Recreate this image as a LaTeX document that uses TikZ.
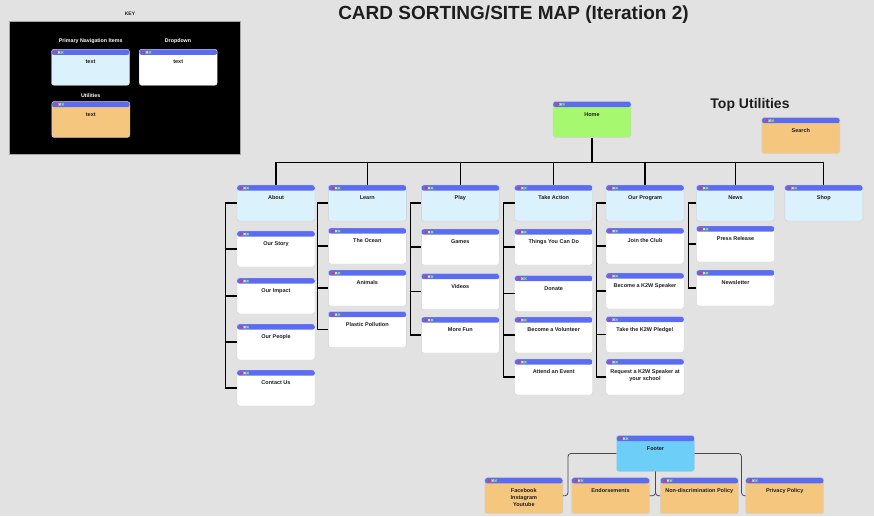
\documentclass[tikz,border=0pt]{standalone}
\usepackage{fontspec}
\setmainfont{Liberation Sans}
\usetikzlibrary{positioning, calc}
\definecolor{canvasGray}{HTML}{E2E2E2}
\definecolor{headerBlue}{HTML}{5B6CF3}
\definecolor{navBlue}{HTML}{DBF1FC}
\definecolor{homeGreen}{HTML}{A6F96E}
\definecolor{utilOrange}{HTML}{F5C77E}
\definecolor{footerBlue}{HTML}{6DCFF8}
\definecolor{dotRed}{HTML}{E8393A}
\definecolor{dotPale}{HTML}{D9DCF7}
\definecolor{dotGreen}{HTML}{8EDB5A}
\definecolor{cardEdge}{HTML}{CFCFD6}
\definecolor{textDark}{HTML}{1E1E1E}
\definecolor{footLine}{HTML}{4A4A4A}

\begin{document}
\begin{tikzpicture}[x=1pt, y=-1pt,
    cardtext/.style={font=\fontsize{5.5}{7}\selectfont\bfseries, text=textDark, align=center, inner sep=0pt, anchor=north, yshift=-11pt},
    card/.style={draw=cardEdge, line width=0.4pt, rounded corners=2.5pt, minimum width=78pt, minimum height=36pt, inner sep=0pt,
        path picture={
            \fill[headerBlue] (path picture bounding box.north west) rectangle ([yshift=-5.7pt]path picture bounding box.north east);
            \fill[dotRed] ([xshift=3.7pt,yshift=-2pt]path picture bounding box.north west) rectangle ++(2pt,-2pt);
            \fill[dotPale] ([xshift=6.7pt,yshift=-2pt]path picture bounding box.north west) rectangle ++(2pt,-2pt);
            \fill[dotGreen] ([xshift=9.7pt,yshift=-2pt]path picture bounding box.north west) rectangle ++(2pt,-2pt);
        },
        label={[cardtext]north:#1}},
    navcard/.style={card={#1}, fill=navBlue},
    dropcard/.style={card={#1}, fill=white},
    utilcard/.style={card={#1}, fill=utilOrange},
    homecard/.style={card={#1}, fill=homeGreen},
    footcard/.style={card={#1}, fill=footerBlue},
    keytext/.style={font=\fontsize{5.3}{7}\selectfont\bfseries, text=white, anchor=base, inner sep=0pt},
    link/.style={draw=black, line width=1.1pt},
    footlink/.style={draw=footLine, line width=0.8pt, rounded corners=3pt},
]
    \useasboundingbox (0,0) rectangle (874,516);
    \fill[canvasGray] (0,0) rectangle (874,516);

    % titles
    \node[font=\fontsize{19}{22}\selectfont\bfseries, text=textDark, anchor=base] (title) at (513.5,20) {CARD SORTING/SITE MAP (Iteration 2)};
    \node[font=\fontsize{14}{16}\selectfont\bfseries, text=textDark, anchor=base] (toputil) at (750,108) {Top Utilities};

    % key
    \node[font=\fontsize{5}{6}\selectfont\bfseries, text=textDark, anchor=base, inner sep=0pt] (keyhead) at (130,16) {KEY};
    \fill[black, draw=gray!70] (9.3,21) rectangle (240,154);
    \node[keytext] (keynavlbl) at (90.7,43) {Primary Navigation Items};
    \node[keytext] (keydroplbl) at (178,43) {Dropdown};
    \node[keytext] (keyutillbl) at (90.7,98) {Utilities};
    \node[navcard={text}] (keynav) at (90.5,67.3) {};
    \node[dropcard={text}] (keydrop) at (178.2,67.3) {};
    \node[utilcard={text}] (keyutil) at (90.8,119.5) {};

    % home and utilities
    \node[homecard={Home}] (home) at (592,119.4) {};
    \node[utilcard={Search}] (search) at (800.8,135.5) {};

    % primary navigation
    \node[navcard={About}] (about) at (276,203) {};
    \node[navcard={Learn}] (learn) at (367.3,203) {};
    \node[navcard={Play}] (play) at (460.3,203) {};
    \node[navcard={Take Action}] (action) at (553.7,203) {};
    \node[navcard={Our Program}] (program) at (645,203) {};
    \node[navcard={News}] (news) at (735.5,203) {};
    \node[navcard={Shop}] (shop) at (823.8,203) {};

    % dropdowns
    \node[dropcard={Our Story}] (story) at (276,249) {};
    \node[dropcard={Our Impact}] (impact) at (276,296) {};
    \node[dropcard={Our People}] (people) at (276,342) {};
    \node[dropcard={Contact Us}] (contact) at (276,388) {};

    \node[dropcard={The Ocean}] (ocean) at (367.3,246) {};
    \node[dropcard={Animals}] (animals) at (367.3,288) {};
    \node[dropcard={Plastic Pollution}] (plastic) at (367.3,329.5) {};

    \node[dropcard={Games}] (games) at (460.3,247) {};
    \node[dropcard={Videos}] (videos) at (460.3,291.5) {};
    \node[dropcard={More Fun}] (morefun) at (460.3,335) {};

    \node[dropcard={Things You Can Do}] (things) at (553.7,247) {};
    \node[dropcard={Donate}] (donate) at (553.7,293.5) {};
    \node[dropcard={Become a Volunteer}] (volunteer) at (553.7,335) {};
    \node[dropcard={Attend an Event}] (event) at (553.7,377) {};

    \node[dropcard={Join the Club}] (club) at (645,246) {};
    \node[dropcard={Become a K2W Speaker}] (speaker) at (645,291) {};
    \node[dropcard={Take the K2W Pledge!}] (pledge) at (645,334.5) {};
    \node[dropcard={Request a K2W Speaker at\\your school}] (request) at (645,377) {};

    \node[dropcard={Press Release}] (press) at (735.5,244) {};
    \node[dropcard={Newsletter}] (newsletter) at (735.5,288) {};

    % tree connectors
    \draw[link] (home.south) -- ++(0,25) coordinate (bus);
    \foreach \n in {about,learn,play,action,program,news,shop}
        \draw[link] (\n.north) |- (bus);

    \draw[link] (about.west) -| ([xshift=-11pt]contact.west) -- (contact.west);
    \foreach \n in {story,impact,people}
        \draw[link] (\n.west) -- ++(-11,0);
    \draw[link] (learn.west) -| ([xshift=-11pt]plastic.west) -- (plastic.west);
    \foreach \n in {ocean,animals}
        \draw[link] (\n.west) -- ++(-11,0);
    \draw[link] (play.west) -| ([xshift=-11pt]morefun.west) -- (morefun.west);
    \foreach \n in {games,videos}
        \draw[link] (\n.west) -- ++(-11,0);
    \draw[link] (action.west) -| ([xshift=-11pt]event.west) -- (event.west);
    \foreach \n in {things,donate,volunteer}
        \draw[link] (\n.west) -- ++(-11,0);
    \draw[link] (program.west) -| ([xshift=-9pt]request.west) -- (request.west);
    \foreach \n in {club,speaker,pledge}
        \draw[link] (\n.west) -- ++(-9,0);
    \draw[link] (news.west) -| ([xshift=-8pt]newsletter.west) -- (newsletter.west);
    \draw[link] (press.west) -- ++(-8,0);

    % footer
    \node[footcard={Footer}] (footer) at (655.5,453.5) {};
    \node[utilcard={Facebook\\Instagram\\Youtube}] (social) at (523.8,495.7) {};
    \node[utilcard={Endorsements}] (endorse) at (610.5,495.7) {};
    \node[utilcard={Non-discrimination Policy}] (nondisc) at (699.3,495.7) {};
    \node[utilcard={Privacy Policy}] (privacy) at (784.7,495.7) {};

    \draw[footlink] (footer.west) -| ([xshift=5pt]social.east) -- (social.east);
    \draw[footlink] (footer.east) -| ([xshift=-4pt]privacy.west) -- (privacy.west);
    \draw[footlink] (endorse.east) -| (footer.south);
    \draw[footlink] (nondisc.west) -| (footer.south);
\end{tikzpicture}
\end{document}
